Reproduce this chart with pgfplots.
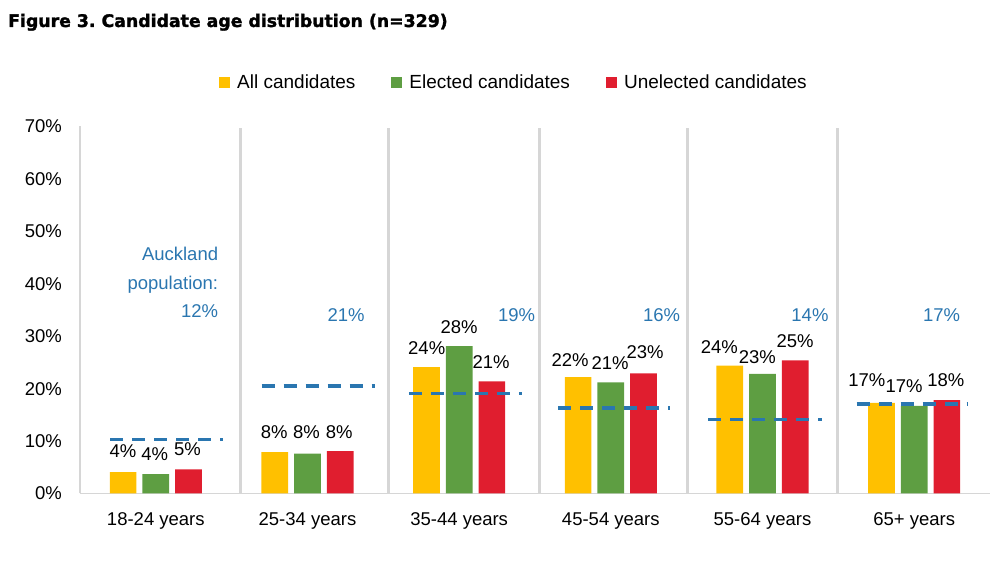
\documentclass[border=0pt]{standalone}
\usepackage{pgfplots}
\pgfplotsset{compat=1.18}
\usepackage{fontspec}
\setmainfont{Liberation Sans}
\newfontfamily\titlefont[FakeBold=1.6]{DejaVu Sans Bold}
\definecolor{cyel}{HTML}{FFC000}
\definecolor{cgrn}{HTML}{5E9E42}
\definecolor{cred}{HTML}{E01E2F}
\definecolor{cblu}{HTML}{2A76B0}
\definecolor{cgry}{HTML}{D6D6D6}
\newcommand{\lblfont}{\fontsize{18.5}{22}\selectfont}
\frenchspacing
\begin{document}
\begin{tikzpicture}[x=1pt,y=1pt]
\path[use as bounding box] (0,0) rectangle (1002,567);
\node[anchor=base west, inner sep=0pt, font=\titlefont\fontsize{17.3}{20}\selectfont] at (8,540) {Figure 3. Candidate age distribution (n=329)};
\begin{axis}[
  at={(80pt,73.5pt)}, anchor=south west, scale only axis,
  width=910pt, height=367pt,
  xmin=-0.5, xmax=5.5, ymin=0, ymax=70,
  axis x line=bottom, axis y line=left,
  axis line style={cgry, line width=1.6pt, -},
  major tick length=0pt,
  xtick={0,1,2,3,4,5},
  xticklabels={18-24 years,25-34 years,35-44 years,45-54 years,55-64 years,65+ years},
  ytick={0,10,...,70},
  yticklabel={\pgfmathprintnumber{\tick}\%},
  /pgf/number format/assume math mode=true,
  tick label style={font=\lblfont, inner sep=0pt},
  yticklabel style={anchor=east, xshift=-18pt},
  xticklabel style={anchor=base, yshift=-32pt},
  legend columns=3,
  legend style={at={(0.4769,1.1199)}, anchor=center, draw=none, fill=none,
    font=\fontsize{19}{22}\selectfont, inner sep=0pt,
    /tikz/every odd column/.append style={column sep=5pt},
    /tikz/every even column/.append style={column sep=34pt}},
  legend cell align=left,
  clip=false,
]
% vertical separators
\addplot[ycomb, cgry, line width=3pt, mark=none, forget plot] coordinates {
 (0.555,69.7) (1.531,69.7) (2.527,69.7) (3.503,69.7) (4.492,69.7)};
% bars
\addplot[ybar, bar width=26.7pt, bar shift=-32.7pt, fill=cyel, draw=none,
  legend image code/.code={\fill[cyel] (0pt,-5.5pt) rectangle (11pt,5.5pt);}]
  coordinates {(0,4.1) (1,7.9) (2,24.1) (3,22.2) (4,24.4) (5,17.3)};
\addlegendentry{All candidates}
\addplot[ybar, bar width=26.7pt, bar shift=0pt, fill=cgrn, draw=none,
  legend image code/.code={\fill[cgrn] (0pt,-5.5pt) rectangle (11pt,5.5pt);}]
  coordinates {(0,3.7) (1,7.6) (2,28.1) (3,21.2) (4,22.8) (5,16.7)};
\addlegendentry{Elected candidates}
\addplot[ybar, bar width=26.7pt, bar shift=32.7pt, fill=cred, draw=none,
  legend image code/.code={\fill[cred] (0pt,-5.5pt) rectangle (11pt,5.5pt);}]
  coordinates {(0,4.6) (1,8.1) (2,21.4) (3,22.9) (4,25.4) (5,17.8)};
\addlegendentry{Unelected candidates}
% Auckland population dashed lines
\addplot[cblu, line width=3.5pt, dash pattern=on 13pt off 9pt, mark=none,
  unbounded coords=jump, forget plot] coordinates {
 (-0.302,10.3) (0.443,10.3) (nan,nan)
 (0.698,20.46) (1.445,20.46) (nan,nan)
 (1.669,19.07) (2.413,19.07) (nan,nan)
 (2.652,16.35) (3.390,16.35) (nan,nan)
 (3.641,14.11) (4.390,14.11) (nan,nan)
 (4.621,17.03) (5.357,17.03)};
% data labels
\addplot[draw=none, mark=none, forget plot, point meta=explicit,
  nodes near coords={\pgfmathprintnumber{\pgfplotspointmeta}\%},
  every node near coord/.append style={anchor=center, inner sep=0pt, font=\lblfont, text=black}]
  coordinates {
 (-0.216,8.07) [4] (-0.007,7.44) [4] (0.209,8.40) [5]
 (0.780,11.70) [8] (0.993,11.70) [8] (1.209,11.70) [8]
 (1.786,27.67) [24] (1.999,31.74) [28] (2.210,25.13) [21]
 (2.731,25.38) [22] (2.995,24.81) [21] (3.226,26.97) [23]
 (3.716,28.00) [24] (3.966,26.01) [23] (4.215,29.06) [25]
 (4.688,21.62) [17] (4.934,20.48) [17] (5.209,21.62) [18]};
% population labels
\addplot[draw=none, mark=none, forget plot, point meta=explicit,
  nodes near coords={\pgfmathprintnumber{\pgfplotspointmeta}\%},
  every node near coord/.append style={anchor=center, inner sep=0pt, font=\lblfont, text=cblu}]
  coordinates {
 (1.254,33.95) [21] (2.379,33.95) [19] (3.335,33.95) [16] (4.313,33.95) [14] (5.181,33.95) [17]};
\addplot[draw=none, mark=none, forget plot, point meta=explicit symbolic,
  nodes near coords,
  every node near coord/.append style={anchor=east, inner sep=0pt, font=\fontsize{18.5}{28.5}\selectfont, text=cblu, align=right}]
  coordinates {(0.412,40.24) [Auckland\\population:\\12\%]};
\end{axis}
\end{tikzpicture}
\end{document}
